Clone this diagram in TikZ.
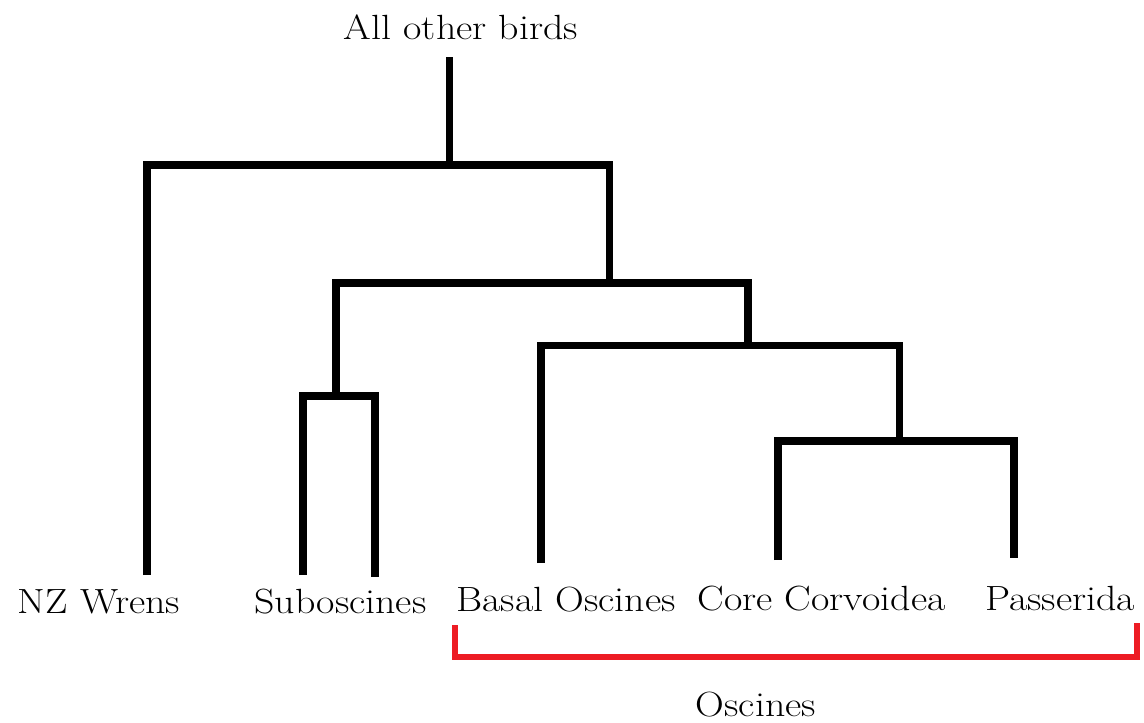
\documentclass[tikz,border=0pt]{standalone}
\usepackage{fontspec}
\setmainfont{lmroman17-regular.otf}[FakeStretch=1.14]
\definecolor{cladered}{RGB}{237,28,36}
\begin{document}
\begin{tikzpicture}[x=1pt,y=-1pt,
  branch/.style={line width=7.5pt,line join=miter,line cap=butt},
  bracketline/.style={cladered,line width=6pt,line join=miter,line cap=butt},
  taxon/.style={anchor=base,inner sep=0pt,font=\fontsize{35}{40}\selectfont}]
\useasboundingbox (0,0) rectangle (1144,723);

% labels
\node[taxon] (top) at (461,39) {All other birds};
\node[taxon] (nzw) at (99,613) {NZ Wrens};
\node[taxon] (sub) at (340.5,613) {Suboscines};
\node[taxon] (bas) at (566,611) {Basal Oscines};
\node[taxon] (cor) at (821.5,610) {Core Corvoidea};
\node[taxon] (pas) at (1060,610) {Passerida};
\node[taxon] (osc) at (756,716) {Oscines};

% branch tips and joints
\coordinate (rtop) at (449.5,57);
\coordinate (c0) at (449.5,165);
\coordinate (c1) at (609.5,283);
\coordinate (c2) at (336,396);
\coordinate (c3) at (748,345.5);
\coordinate (c4) at (899.5,441);
\coordinate (tNZ) at (147,575);
\coordinate (tS1) at (303,575);
\coordinate (tS2) at (375,577);
\coordinate (tB) at (541,563);
\coordinate (tC) at (778,560);
\coordinate (tP) at (1014,558);

% tree
\draw[branch] (rtop) -- (c0);
\draw[branch] (tNZ) |- (c0) -| (c1);
\draw[branch] (c2) |- (c1) -| (c3);
\draw[branch] (tS1) |- (c2) -| (tS2);
\draw[branch] (tB) |- (c3) -| (c4);
\draw[branch] (tC) |- (c4) -| (tP);

% bracket over the oscine clades
\coordinate (bl) at (454.5,625);
\coordinate (bm) at (796,657);
\coordinate (br) at (1137,623);
\draw[bracketline] (bl) |- (bm) -| (br);
\end{tikzpicture}
\end{document}
